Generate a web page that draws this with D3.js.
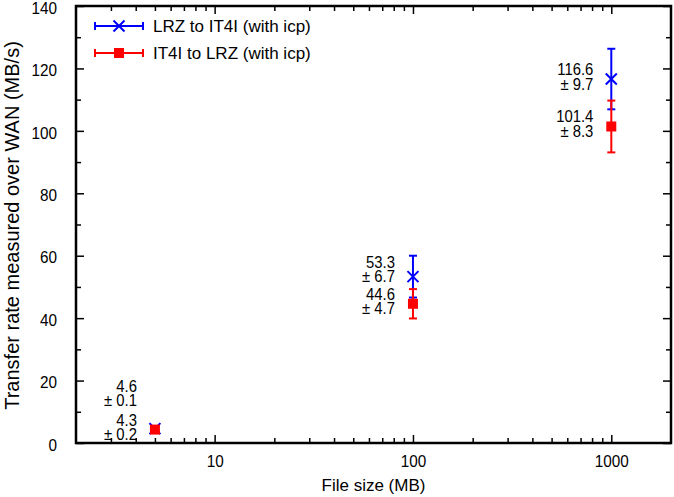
<!DOCTYPE html>
<html>
<head>
<meta charset="utf-8">
<script src="https://cdn.jsdelivr.net/npm/d3@7"></script>
<style>
  body { margin: 0; background: #fff; }
  text { font-family: "Liberation Sans", Arial, sans-serif; fill: #000; }
  .domain { display: none; }
  .tick line { stroke: #000; stroke-width: 1.5; }
  .sq { transform-box: fill-box; transform: scaleX(0.9); transform-origin: center; }
  .sqr { transform-box: fill-box; transform: scaleX(0.9); transform-origin: right center; }
</style>
</head>
<body>
<script>
const sizes = [5, 100, 1000];
const lrzToIt4i = [4.6, 53.3, 116.6];
const lrzToIt4iErr = [0.1, 6.7, 9.7];
const it4iToLrz = [4.3, 44.6, 101.4];
const it4iToLrzErr = [0.2, 4.7, 8.3];
const seriesNames = ['LRZ to IT4I (with icp)', 'IT4I to LRZ (with icp)'];
const xMajor = [10, 100, 1000];
const yMajor = [0, 20, 40, 60, 80, 100, 120, 140];

const W = 674, H = 497;
const pLeft = 76, pRight = 671, pTop = 6, pBottom = 443;

const svg = d3.select('body').append('svg')
  .attr('width', W).attr('height', H);

const x = d3.scaleLog().domain([2, 2000]).range([pLeft, pRight]);
const y = d3.scaleLinear().domain([0, 140]).range([pBottom, pTop]);

// minor ticks
const xMinor = [];
[1, 10, 100, 1000].forEach(d => {
  for (let k = 2; k <= 9; k++) {
    const v = d * k;
    if (v > 2 && v < 2000) xMinor.push(v);
  }
});
const yMinor = d3.range(10, 140, 20);

svg.append('g').attr('transform', `translate(0,${pBottom})`)
  .call(d3.axisBottom(x).tickValues(xMinor).tickSize(-5).tickFormat(''));
svg.append('g').attr('transform', `translate(0,${pTop})`)
  .call(d3.axisTop(x).tickValues(xMinor).tickSize(-5).tickFormat(''));
svg.append('g').attr('transform', `translate(0,${pTop})`)
  .call(d3.axisTop(x).tickValues(xMajor).tickSize(-8).tickFormat(''));
svg.append('g').attr('transform', `translate(0,${pBottom})`)
  .call(d3.axisBottom(x).tickValues(xMajor).tickSize(-8).tickPadding(12)
    .tickFormat(d3.format('d')))
  .selectAll('text').style('font-size', '17px').attr('class', 'sq');

svg.append('g').attr('transform', `translate(${pLeft},0)`)
  .call(d3.axisLeft(y).tickValues(yMinor).tickSize(-5).tickFormat(''));
svg.append('g').attr('transform', `translate(${pRight},0)`)
  .call(d3.axisRight(y).tickValues(yMinor).tickSize(-5).tickFormat(''));
svg.append('g').attr('transform', `translate(${pRight},0)`)
  .call(d3.axisRight(y).tickValues(yMajor).tickSize(-8).tickFormat(''));
svg.append('g').attr('transform', `translate(${pLeft},0)`)
  .call(d3.axisLeft(y).tickValues(yMajor).tickSize(-8).tickPadding(19))
  .selectAll('text').style('font-size', '17px').attr('dy', '0.42em').attr('class', 'sqr');

// frame
svg.append('rect')
  .attr('x', pLeft).attr('y', pTop)
  .attr('width', pRight - pLeft).attr('height', pBottom - pTop)
  .attr('fill', 'none').attr('stroke', '#000').attr('stroke-width', 2.5);

// axis titles
svg.append('text')
  .attr('x', (pLeft + pRight) / 2).attr('y', 491)
  .attr('text-anchor', 'middle').style('font-size', '17px')
  .text('File size (MB)');
svg.append('text')
  .attr('transform', `translate(19,${(pTop + pBottom) / 2 + 1}) rotate(-90)`)
  .attr('text-anchor', 'middle').style('font-size', '20px')
  .text('Transfer rate measured over WAN (MB/s)');

const series = [
  { vals: lrzToIt4i, errs: lrzToIt4iErr, color: '#0000ff', marker: 'cross' },
  { vals: it4iToLrz, errs: it4iToLrzErr, color: '#ff0000', marker: 'square' }
];

function drawMarker(g, cx, cy, s) {
  if (s.marker === 'cross') {
    const r = 5.5;
    g.append('path')
      .attr('d', `M${cx - r},${cy - r}L${cx + r},${cy + r}M${cx - r},${cy + r}L${cx + r},${cy - r}`)
      .attr('stroke', s.color).attr('stroke-width', 2);
  } else {
    g.append('rect')
      .attr('x', cx - 5).attr('y', cy - 5).attr('width', 10).attr('height', 10)
      .attr('fill', s.color);
  }
}

// points with error bars
series.forEach(s => {
  const g = svg.append('g');
  sizes.forEach((d, i) => {
    const cx = x(d);
    const y0 = y(s.vals[i] - s.errs[i]), y1 = y(s.vals[i] + s.errs[i]);
    g.append('line').attr('x1', cx).attr('x2', cx).attr('y1', y0).attr('y2', y1)
      .attr('stroke', s.color).attr('stroke-width', 2);
    [y0, y1].forEach(yy => g.append('line')
      .attr('x1', cx - 4).attr('x2', cx + 4).attr('y1', yy).attr('y2', yy)
      .attr('stroke', s.color).attr('stroke-width', 2));
    drawMarker(g, cx, y(s.vals[i]), s);
  });
});

// value labels (vertical nudges so the label blocks do not collide)
const labelNudge = [[-33, -5, 0], [0, 0, 0]];
series.forEach((s, si) => {
  sizes.forEach((d, i) => {
    const tx = x(d) - 18;
    const ty = y(s.vals[i]) + labelNudge[si][i];
    const t = svg.append('text')
      .attr('text-anchor', 'end').attr('class', 'sqr')
      .style('font-size', '16.5px');
    t.append('tspan').attr('x', tx).attr('y', ty - 4).text(s.vals[i].toFixed(1));
    t.append('tspan').attr('x', tx).attr('y', ty + 10.5).text('± ' + s.errs[i].toFixed(1));
  });
});

// legend
series.forEach((s, i) => {
  const ly = 26 + i * 27;
  const g = svg.append('g');
  g.append('line').attr('x1', 95).attr('x2', 143).attr('y1', ly).attr('y2', ly)
    .attr('stroke', s.color).attr('stroke-width', 2);
  [95, 143].forEach(xx => g.append('line')
    .attr('x1', xx).attr('x2', xx).attr('y1', ly - 4).attr('y2', ly + 4)
    .attr('stroke', s.color).attr('stroke-width', 2));
  drawMarker(g, 119, ly, s);
  g.append('text').attr('x', 153).attr('y', ly + 6)
    .style('font-size', '17px').text(seriesNames[i]);
});
</script>
</body>
</html>
